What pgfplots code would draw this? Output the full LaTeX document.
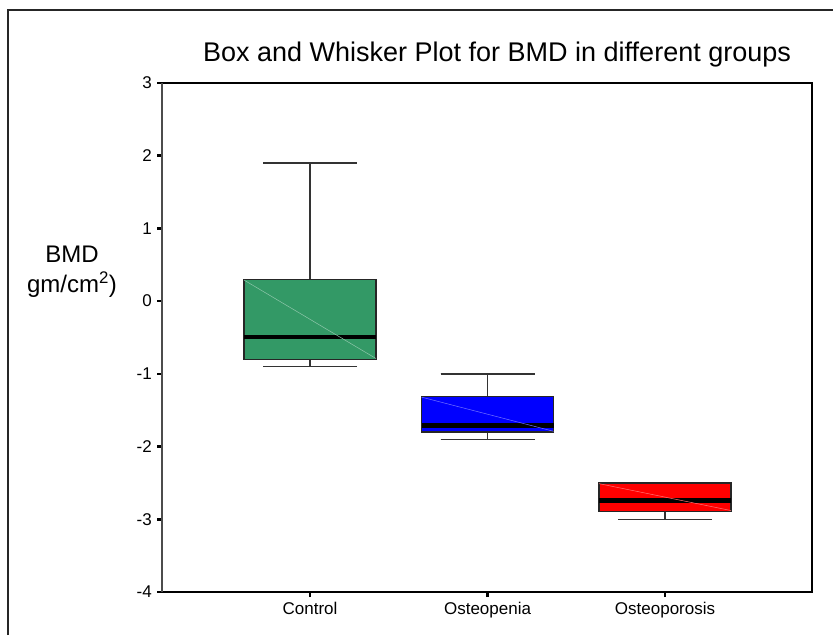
\documentclass[border=0pt]{standalone}
\usepackage{fontspec}
\setmainfont{Liberation Sans}
\usepackage{pgfplots}
\pgfplotsset{compat=1.18}
\usepgfplotslibrary{statistics}
\definecolor{ctrlgreen}{RGB}{51,153,102}
\definecolor{penblue}{RGB}{0,0,255}
\definecolor{porred}{RGB}{255,0,0}
\begin{document}
\begin{tikzpicture}
\useasboundingbox (0pt,0pt) rectangle (833pt,635pt);
% outer frame (left and top edges visible)
\draw[line width=1.5pt, black!85] (8pt,0pt) -- (8pt,625pt) -- (833pt,625pt);
% title
\node[anchor=base, font=\fontsize{27}{31}\selectfont] at (497pt,573pt) {Box and Whisker Plot for BMD in different groups};
% y label
\node[anchor=base, font=\fontsize{24}{28}\selectfont] at (72pt,372pt) {BMD};
\node[anchor=base, font=\fontsize{24}{28}\selectfont] at (72pt,342pt) {gm/cm\textsuperscript{2})};
\begin{axis}[
  at={(162pt,43pt)}, anchor=south west,
  scale only axis, width=650pt, height=509pt,
  xmin=0.166, xmax=3.828, ymin=-4, ymax=3,
  xtick={1,2,3}, xticklabels={Control,Osteopenia,Osteoporosis},
  ytick={-4,-3,-2,-1,0,1,2,3},
  yticklabels={-4,-3,-2,-1,0,1,2,3},
  tick align=outside, major tick length=5pt,
  tick style={line width=2.5pt, black},
  xtick pos=bottom, ytick pos=left,
  axis line style={line width=1.5pt, black},
  ticklabel style={font=\fontsize{17}{20}\selectfont},
  yticklabel style={inner sep=1pt, xshift=-4pt},
  xticklabel style={inner sep=1pt, yshift=-4pt},
  boxplot/draw direction=y,
  boxplot/every median/.style={line width=4.5pt, black},
  boxplot/every box/.style={line width=1.3pt, draw=black!85},
  boxplot/every whisker/.style={line width=1.5pt, black!80},
  clip=false,
]
\addplot[fill=ctrlgreen, draw=black!85,
  boxplot prepared={lower whisker=-0.9, lower quartile=-0.8, median=-0.49,
    upper quartile=0.3, upper whisker=1.9, draw position=1,
    box extend=0.744, whisker extend=0.53}] coordinates {};
\draw[ctrlgreen!55!white, line width=0.5pt] (axis cs:0.628,0.29) -- (axis cs:1.372,-0.79);
\addplot[fill=penblue, draw=black!85,
  boxplot prepared={lower whisker=-1.9, lower quartile=-1.8, median=-1.71,
    upper quartile=-1.31, upper whisker=-1.0, draw position=2,
    box extend=0.744, whisker extend=0.53}] coordinates {};
\draw[penblue!55!white, line width=0.5pt] (axis cs:1.628,-1.32) -- (axis cs:2.372,-1.79);
\addplot[fill=porred, draw=black!85,
  boxplot prepared={lower whisker=-3.0, lower quartile=-2.89, median=-2.74,
    upper quartile=-2.5, upper whisker=-2.5, draw position=3,
    box extend=0.744, whisker extend=0.53}] coordinates {};
\draw[porred!55!white, line width=0.5pt] (axis cs:2.628,-2.51) -- (axis cs:3.372,-2.88);
\draw[line width=2pt, black!70] (rel axis cs:0,0) -- (rel axis cs:0,1);
\end{axis}
\end{tikzpicture}
\end{document}
